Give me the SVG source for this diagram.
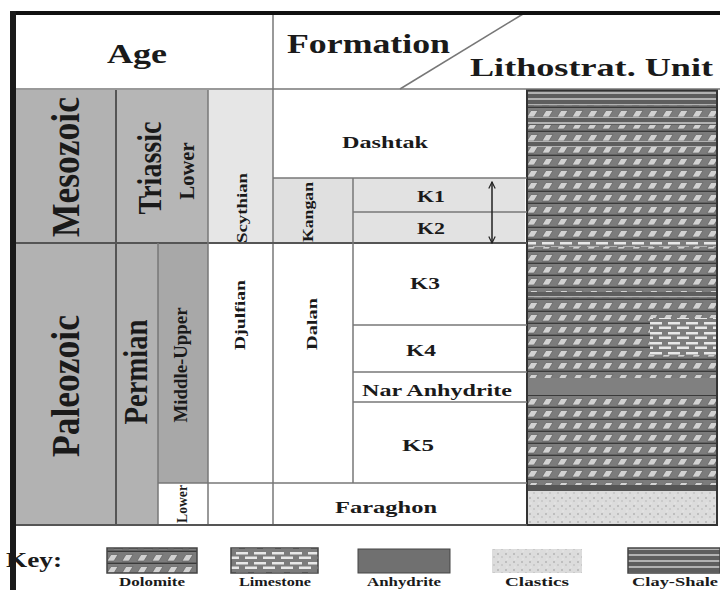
<svg xmlns="http://www.w3.org/2000/svg" width="720" height="590" viewBox="0 0 720 590">
<style>
.t{font-family:"Liberation Serif","Times New Roman",serif;font-weight:bold;fill:#1a1a1a}
.g{stroke:#777;stroke-width:1.5;fill:none}
.gd{stroke:#555;stroke-width:2;fill:none}
</style>
<defs>
<pattern id="dol" width="15" height="12" patternUnits="userSpaceOnUse">
<rect width="15" height="12" fill="#7c7c7c"/>
<polygon points="2,9 6,2.5 13,2.5 9,9" fill="#d2d2d2" stroke="#555" stroke-width="0.6"/>
<line x1="0" y1="11.3" x2="15" y2="11.3" stroke="#3a3a3a" stroke-width="1.4"/>
</pattern>
<pattern id="lim" width="18" height="10" patternUnits="userSpaceOnUse">
<rect width="18" height="10" fill="#7c7c7c"/>
<rect x="2" y="2" width="12" height="2.5" fill="#e8e8e8"/>
<rect x="11" y="6.5" width="12" height="2.5" fill="#e8e8e8"/>
<rect x="-7" y="6.5" width="12" height="2.5" fill="#e8e8e8"/>
</pattern>
<pattern id="clay" width="10" height="6" patternUnits="userSpaceOnUse">
<rect width="10" height="6" fill="#5e5e5e"/>
<line x1="0" y1="3" x2="10" y2="3" stroke="#c8c8c8" stroke-width="1.6"/>
</pattern>
<pattern id="cla" width="8" height="8" patternUnits="userSpaceOnUse">
<rect width="8" height="8" fill="#dcdcdc"/>
<circle cx="2" cy="2" r="0.8" fill="#999"/>
<circle cx="6" cy="5" r="0.7" fill="#aaa"/>
<circle cx="3" cy="7" r="0.5" fill="#f8f8f8"/>
</pattern>
<marker id="ah" viewBox="0 0 10 10" refX="9" refY="5" markerWidth="8" markerHeight="8" orient="auto-start-reverse" markerUnits="userSpaceOnUse">
<path d="M1,1 L9,5 L1,9" fill="none" stroke="#222" stroke-width="1.5"/>
</marker>
</defs>
<rect width="720" height="590" fill="#fff"/>

<g id="header">
<text class="t" x="137" y="63" font-size="27" text-anchor="middle" textLength="60" lengthAdjust="spacingAndGlyphs">Age</text>
<text class="t" x="287" y="53" font-size="27" textLength="163" lengthAdjust="spacingAndGlyphs">Formation</text>
<text class="t" x="470" y="76" font-size="26" textLength="243" lengthAdjust="spacingAndGlyphs">Lithostrat. Unit</text>
</g>

<g id="era-mesozoic">
<rect x="16" y="90" width="100" height="153" fill="#b2b2b2"/>
<text class="t" font-size="40" text-anchor="middle" transform="translate(66,167) rotate(-90)" dy="0.33em" textLength="140" lengthAdjust="spacingAndGlyphs">Mesozoic</text>
</g>
<g id="era-paleozoic">
<rect x="16" y="243" width="100" height="283" fill="#b2b2b2"/>
<text class="t" font-size="40" text-anchor="middle" transform="translate(66,386) rotate(-90)" dy="0.33em" textLength="142" lengthAdjust="spacingAndGlyphs">Paleozoic</text>
</g>
<g id="period-triassic">
<rect x="116" y="90" width="92" height="153" fill="#b6b6b6"/>
<text class="t" font-size="34" text-anchor="middle" transform="translate(150,168) rotate(-90)" dy="0.33em" textLength="93" lengthAdjust="spacingAndGlyphs">Triassic</text>
<text class="t" font-size="22" text-anchor="middle" transform="translate(187,171) rotate(-90)" dy="0.33em" textLength="57" lengthAdjust="spacingAndGlyphs">Lower</text>
</g>
<g id="period-permian">
<rect x="116" y="243" width="42" height="283" fill="#b2b2b2"/>
<text class="t" font-size="34" text-anchor="middle" transform="translate(136,372) rotate(-90)" dy="0.33em" textLength="105" lengthAdjust="spacingAndGlyphs">Permian</text>
</g>
<g id="epoch-middle-upper">
<rect x="158" y="243" width="50" height="240" fill="#a8a8a8"/>
<text class="t" font-size="18" text-anchor="middle" transform="translate(181,365) rotate(-90)" dy="0.33em" textLength="115" lengthAdjust="spacingAndGlyphs">Middle-Upper</text>
</g>
<g id="epoch-lower">
<rect x="158" y="483" width="50" height="43" fill="#fff"/>
<text class="t" font-size="15" text-anchor="middle" transform="translate(182,504) rotate(-90)" dy="0.33em" textLength="38" lengthAdjust="spacingAndGlyphs">Lower</text>
</g>
<g id="stage-scythian">
<rect x="208" y="90" width="65" height="153" fill="#e6e6e6"/>
<text class="t" font-size="15" text-anchor="middle" transform="translate(242,208) rotate(-90)" dy="0.33em" textLength="70" lengthAdjust="spacingAndGlyphs">Scythian</text>
</g>
<g id="stage-djulfian">
<rect x="208" y="243" width="65" height="240" fill="#fff"/>
<text class="t" font-size="15" text-anchor="middle" transform="translate(240,315) rotate(-90)" dy="0.33em" textLength="70" lengthAdjust="spacingAndGlyphs">Djulfian</text>
</g>
<g id="fm-dashtak">
<rect x="273" y="90" width="252" height="88" fill="#fff"/>
<text class="t" x="385" y="148" font-size="17" text-anchor="middle" textLength="86" lengthAdjust="spacingAndGlyphs">Dashtak</text>
</g>
<g id="fm-kangan">
<rect x="273" y="178" width="80" height="65" fill="#e0e0e0"/>
<text class="t" font-size="14" text-anchor="middle" transform="translate(308,212) rotate(-90)" dy="0.33em" textLength="60" lengthAdjust="spacingAndGlyphs">Kangan</text>
</g>
<g id="unit-k1">
<rect x="353" y="178" width="172" height="34" fill="#e2e2e2"/>
<text class="t" x="431" y="202" font-size="16" text-anchor="middle" textLength="28" lengthAdjust="spacingAndGlyphs">K1</text>
</g>
<g id="unit-k2">
<rect x="353" y="212" width="172" height="31" fill="#e2e2e2"/>
<text class="t" x="431" y="234" font-size="16" text-anchor="middle" textLength="28" lengthAdjust="spacingAndGlyphs">K2</text>
</g>
<g id="fm-dalan">
<text class="t" font-size="15" text-anchor="middle" transform="translate(312,324) rotate(-90)" dy="0.33em" textLength="52" lengthAdjust="spacingAndGlyphs">Dalan</text>
</g>
<g id="unit-k3">
<text class="t" x="425" y="289" font-size="16" text-anchor="middle" textLength="30" lengthAdjust="spacingAndGlyphs">K3</text>
</g>
<g id="unit-k4">
<text class="t" x="421" y="356" font-size="16" text-anchor="middle" textLength="30" lengthAdjust="spacingAndGlyphs">K4</text>
</g>
<g id="unit-nar">
<text class="t" x="437" y="396" font-size="16" text-anchor="middle" textLength="150" lengthAdjust="spacingAndGlyphs">Nar Anhydrite</text>
</g>
<g id="unit-k5">
<text class="t" x="418" y="451" font-size="16" text-anchor="middle" textLength="32" lengthAdjust="spacingAndGlyphs">K5</text>
</g>
<g id="fm-faraghon">
<text class="t" x="386" y="513" font-size="17" text-anchor="middle" textLength="102" lengthAdjust="spacingAndGlyphs">Faraghon</text>
</g>

<g id="lithology">
<rect x="527" y="90" width="190" height="15" fill="url(#clay)"/>
<rect x="527" y="105" width="190" height="12" fill="url(#dol)"/>
<rect x="527" y="117" width="190" height="8" fill="url(#clay)"/>
<rect x="527" y="125" width="190" height="16" fill="url(#dol)"/>
<rect x="527" y="141" width="190" height="6" fill="url(#clay)"/>
<rect x="527" y="147" width="190" height="145" fill="url(#dol)"/>
<rect x="527" y="240" width="190" height="7" fill="url(#lim)"/>
<rect x="527" y="292" width="190" height="5" fill="url(#clay)"/>
<rect x="527" y="297" width="190" height="81" fill="url(#dol)"/>
<rect x="650" y="318" width="67" height="37" fill="url(#lim)"/>
<rect x="527" y="378" width="190" height="17" fill="#808080"/>
<rect x="527" y="395" width="190" height="90" fill="url(#dol)"/>
<rect x="527" y="485" width="190" height="6" fill="#555"/>
<rect x="527" y="491" width="190" height="34" fill="url(#cla)"/>
<rect x="527" y="90" width="190" height="435" fill="none" stroke="#333" stroke-width="2"/>
</g>

<g id="connectors">
<line class="g" x1="16" y1="89" x2="720" y2="89"/>
<line class="g" x1="273" y1="15" x2="273" y2="526"/>
<line class="g" x1="400" y1="89" x2="523" y2="14"/>
<line class="gd" x1="16" y1="243" x2="527" y2="243"/>
<line class="gd" x1="116" y1="90" x2="116" y2="526"/>
<line class="g" x1="208" y1="90" x2="208" y2="526"/>
<line class="g" x1="158" y1="243" x2="158" y2="526"/>
<line class="g" x1="158" y1="483" x2="208" y2="483"/>
<line class="g" x1="273" y1="178" x2="527" y2="178"/>
<line class="g" x1="353" y1="178" x2="353" y2="483"/>
<line class="g" x1="353" y1="212" x2="527" y2="212"/>
<line class="g" x1="353" y1="325" x2="527" y2="325"/>
<line class="g" x1="353" y1="372" x2="527" y2="372"/>
<line class="g" x1="353" y1="402" x2="527" y2="402"/>
<line class="g" x1="208" y1="483" x2="527" y2="483"/>
<line class="gd" x1="16" y1="525" x2="527" y2="525"/>
<line x1="492" y1="182" x2="492" y2="243" stroke="#222" stroke-width="1.5" marker-start="url(#ah)" marker-end="url(#ah)"/>
<line x1="10" y1="13" x2="720" y2="13" stroke="#111" stroke-width="4"/>
<line x1="13" y1="11" x2="13" y2="590" stroke="#1a1a1a" stroke-width="6"/>
</g>

<g id="key">
<text class="t" x="6" y="567" font-size="20" textLength="56" lengthAdjust="spacingAndGlyphs">Key:</text>
<rect x="107" y="548" width="90" height="25" fill="url(#dol)" stroke="#444" stroke-width="1.5"/>
<rect x="231" y="548" width="87" height="25" fill="url(#lim)" stroke="#444" stroke-width="1.5"/>
<rect x="358" y="549" width="92" height="24" fill="#707070" stroke="#444" stroke-width="1"/>
<rect x="492" y="549" width="90" height="24" fill="url(#cla)"/>
<rect x="628" y="548" width="92" height="25" fill="url(#clay)" stroke="#444" stroke-width="1.5"/>
<text class="t" x="152" y="586" font-size="12" text-anchor="middle" textLength="66" lengthAdjust="spacingAndGlyphs">Dolomite</text>
<text class="t" x="275" y="586" font-size="12" text-anchor="middle" textLength="72" lengthAdjust="spacingAndGlyphs">Limestone</text>
<text class="t" x="404" y="586" font-size="12" text-anchor="middle" textLength="74" lengthAdjust="spacingAndGlyphs">Anhydrite</text>
<text class="t" x="537" y="586" font-size="12" text-anchor="middle" textLength="64" lengthAdjust="spacingAndGlyphs">Clastics</text>
<text class="t" x="632" y="586" font-size="12" textLength="86" lengthAdjust="spacingAndGlyphs">Clay-Shale</text>
</g>
</svg>
